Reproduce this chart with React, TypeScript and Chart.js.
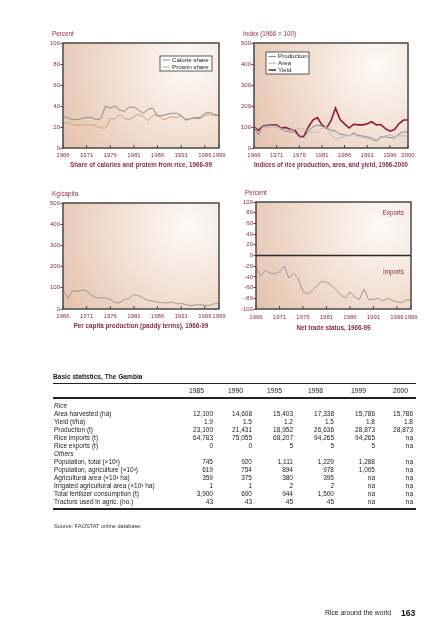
import React, { useEffect, useRef } from "react";
import { Chart, registerables } from "chart.js";
Chart.register(...registerables);

const FONT = "'Liberation Sans', Arial, sans-serif";
const MAROON = "#8b2a4a";

// ---------- data ----------
const years66to99 = [1966, 1967, 1968, 1969, 1970, 1971, 1972, 1973, 1974, 1975, 1976, 1977, 1978, 1979, 1980, 1981, 1982, 1983, 1984, 1985, 1986, 1987, 1988, 1989, 1990, 1991, 1992, 1993, 1994, 1995, 1996, 1997, 1998, 1999];
const years66to00 = [1966, 1967, 1968, 1969, 1970, 1971, 1972, 1973, 1974, 1975, 1976, 1977, 1978, 1979, 1980, 1981, 1982, 1983, 1984, 1985, 1986, 1987, 1988, 1989, 1990, 1991, 1992, 1993, 1994, 1995, 1996, 1997, 1998, 1999, 2000];

const tickYears99 = [1966, 1971, 1976, 1981, 1986, 1991, 1996, 1999];
const tickYears00 = [1966, 1971, 1976, 1981, 1986, 1991, 1996, 2000];

const calorieShare = [30, 29, 27, 27, 28, 29, 29, 27, 28, 40, 38, 40, 36, 35, 39, 39, 36, 33, 37, 38, 30, 31, 32, 33, 33, 31, 27, 28, 29, 29, 33, 34, 32, 31];
const proteinShare = [24, 24, 22, 22, 22, 22, 22, 21, 19, 19, 28, 28, 32, 28, 27, 30, 32, 30, 26, 31, 32, 27, 28, 30, 29, 31, 26, 28, 28, 28, 31, 32, 31, 31];

const productionIdx = [100, 62, 105, 106, 110, 108, 90, 80, 76, 76, 52, 50, 80, 100, 109, 105, 95, 85, 80, 65, 63, 57, 73, 60, 57, 52, 48, 35, 54, 53, 50, 48, 67, 77, 75];
const areaIdx = [100, 75, 100, 98, 100, 98, 95, 82, 85, 88, 92, 90, 80, 75, 75, 95, 100, 60, 42, 48, 55, 60, 65, 55, 52, 45, 38, 32, 48, 58, 62, 55, 58, 58, 56];
const yieldIdx = [100, 83, 105, 108, 110, 110, 95, 98, 89, 86, 56, 55, 100, 133, 145, 110, 95, 130, 190, 135, 115, 95, 113, 110, 110, 115, 125, 110, 112, 92, 80, 88, 115, 133, 133];

const perCapita = [90, 50, 85, 83, 90, 85, 65, 55, 52, 52, 45, 30, 30, 45, 50, 68, 62, 52, 40, 38, 32, 30, 28, 33, 25, 25, 22, 15, 20, 20, 18, 17, 25, 25];

const netTrade = [-22, -38, -28, -33, -34, -30, -20, -42, -33, -43, -67, -72, -65, -57, -48, -50, -55, -63, -73, -80, -68, -78, -82, -63, -83, -82, -80, -85, -80, -84, -87, -88, -83, -83];

const tableYears = ["1985", "1990", "1995", "1998", "1999", "2000"];
const riceRows = [
  ["Area harvested (ha)", "12,100", "14,608", "15,403", "17,338", "15,786", "15,786"],
  ["Yield (t/ha)", "1.9", "1.5", "1.2", "1.5", "1.8", "1.8"],
  ["Production (t)", "23,100", "21,431", "18,952", "26,636", "28,873", "28,873"],
  ["Rice imports (t)", "64,783", "75,055", "68,207", "94,265", "94,265", "na"],
  ["Rice exports (t)", "0", "0", "5", "5", "5", "na"],
];
const otherRows = [
  ["Population, total (×10³)", "745", "920", "1,111", "1,229", "1,268", "na"],
  ["Population, agriculture (×10³)", "619", "754", "894", "978", "1,005", "na"],
  ["Agricultural area (×10³ ha)", "359", "375", "380", "395", "na", "na"],
  ["Irrigated agricultural area (×10³ ha)", "1", "1", "2", "2", "na", "na"],
  ["Total fertilizer consumption (t)", "3,900", "600", "944", "1,500", "na", "na"],
  ["Tractors used in agric. (no.)", "43", "43", "45", "45", "na", "na"],
];

// ---------- chart specs ----------
type LegendItem = { label: string; color: string; width: number };
type Spec = {
  left: number; top: number; width: number; height: number;
  area: { l: number; t: number; r: number; b: number };
  xMin: number; xMax: number; xTicks: number[];
  yMin: number; yMax: number; yStep: number;
  unit: string; title: string; tickPad: number; titleY: number;
  datasets: any[];
  legend?: { x: number; y: number; w: number; h: number; rows: number[]; items: LegendItem[] };
  zeroLine?: boolean;
  notes?: { text: string; x: number; y: number }[];
};

const pts = (xs: number[], ys: number[]) => ys.map((y, i) => ({ x: xs[i], y }));

const line = (label: string, xs: number[], ys: number[], color: string, width = 1) => ({
  label, data: pts(xs, ys), borderColor: color, borderWidth: width,
  pointRadius: 0, tension: 0, fill: false,
});

const C_CAL = "#8a8a8a";
const C_PRO = "#d89b80";
const C_PROD = "#7b8d9e";
const C_AREA = "#bfb5b5";
const C_YIELD = "#8e1b35";
const C_GREY = "#9a9a9a";

const specs: Spec[] = [
  {
    left: 0, top: 25, width: 236, height: 150,
    area: { l: 63, t: 43, r: 219, b: 148 },
    xMin: 1966, xMax: 1999, xTicks: tickYears99,
    yMin: 0, yMax: 100, yStep: 20,
    unit: "Percent", title: "Share of calories and protein from rice, 1966-99",
    tickPad: 3.4, titleY: 165,
    datasets: [
      line("Calorie share", years66to99, calorieShare, C_CAL),
      line("Protein share", years66to99, proteinShare, C_PRO),
    ],
    legend: {
      x: 160, y: 56, w: 52, h: 15, rows: [60, 67],
      items: [
        { label: "Calorie share", color: C_CAL, width: 1 },
        { label: "Protein share", color: C_PRO, width: 1 },
      ],
    },
  },
  {
    left: 230, top: 25, width: 218, height: 150,
    area: { l: 254, t: 43, r: 408, b: 148 },
    xMin: 1966, xMax: 2000, xTicks: tickYears00,
    yMin: 0, yMax: 500, yStep: 100,
    unit: "Index (1966 = 100)", title: "Indices of rice production, area, and yield, 1966-2000",
    tickPad: 3.4, titleY: 165,
    datasets: [
      line("Area", years66to00, areaIdx, C_AREA),
      line("Production", years66to00, productionIdx, C_PROD),
      line("Yield", years66to00, yieldIdx, C_YIELD, 1.6),
    ],
    legend: {
      x: 266, y: 52, w: 43, h: 22, rows: [56.5, 63.2, 70],
      items: [
        { label: "Production", color: C_PROD, width: 1 },
        { label: "Area", color: C_AREA, width: 1 },
        { label: "Yield", color: C_YIELD, width: 1.6 },
      ],
    },
  },
  {
    left: 0, top: 185, width: 236, height: 150,
    area: { l: 63, t: 203, r: 219, b: 309 },
    xMin: 1966, xMax: 1999, xTicks: tickYears99,
    yMin: 0, yMax: 500, yStep: 100,
    unit: "Kg/capita", title: "Per capita production (paddy terms), 1966-99",
    tickPad: 3.4, titleY: 326,
    datasets: [line("Per capita production", years66to99, perCapita, C_GREY)],
  },
  {
    left: 230, top: 185, width: 218, height: 150,
    area: { l: 256, t: 202, r: 411, b: 309 },
    xMin: 1966, xMax: 1999, xTicks: tickYears99,
    yMin: -100, yMax: 100, yStep: 20,
    unit: "Percent", title: "Net trade status, 1966-99",
    tickPad: 4.4, titleY: 328,
    datasets: [line("Net trade", years66to99, netTrade, C_GREY)],
    zeroLine: true,
    notes: [
      { text: "Exports", x: 404, y: 213 },
      { text: "Imports", x: 404, y: 272 },
    ],
  },
];

function buildConfig(s: Spec): any {
  const a = s.area;
  const padTop = a.t - s.top;
  const padRight = s.left + s.width - a.r;
  const yW = a.l - s.left;
  const xH = s.top + s.height - a.b;
  const titleSize = 6.3;
  const titlePadBottom = s.top + s.height - s.titleY - (titleSize * 1.2) / 2;
  const px = (x: number) => x - s.left;
  const py = (y: number) => y - s.top;

  const deco = {
    id: "deco",
    beforeDraw(chart: any) {
      const { ctx, chartArea: ca } = chart;
      const w = ca.right - ca.left;
      const h = ca.bottom - ca.top;
      const cx = ca.left + w * 0.8;
      const cy = ca.top + h * 0.22;
      const g = ctx.createRadialGradient(cx, cy, 0, cx, cy, Math.hypot(w, h) * 0.85);
      g.addColorStop(0, "#fdfaf7");
      g.addColorStop(0.3, "#f6e8de");
      g.addColorStop(1, "#e2bea7");
      ctx.save();
      ctx.fillStyle = g;
      ctx.fillRect(ca.left, ca.top, w, h);
      ctx.restore();
    },
    afterDatasetsDraw(chart: any) {
      const { ctx, chartArea: ca, scales } = chart;
      ctx.save();
      if (s.zeroLine) {
        const y0 = scales.y.getPixelForValue(0);
        ctx.strokeStyle = "#2a2a2a";
        ctx.lineWidth = 1.6;
        ctx.beginPath();
        ctx.moveTo(ca.left, y0);
        ctx.lineTo(ca.right, y0);
        ctx.stroke();
      }
      ctx.strokeStyle = "#4a4646";
      ctx.lineWidth = 1;
      for (const v of s.xTicks) {
        const x = scales.x.getPixelForValue(v);
        ctx.beginPath();
        ctx.moveTo(x, ca.bottom);
        ctx.lineTo(x, ca.bottom - 3);
        ctx.stroke();
      }
      ctx.lineWidth = 1.5;
      ctx.strokeRect(ca.left, ca.top, ca.right - ca.left, ca.bottom - ca.top);

      ctx.fillStyle = MAROON;
      ctx.font = `6.3px ${FONT}`;
      ctx.textAlign = "left";
      ctx.textBaseline = "middle";
      ctx.fillText(s.unit, ca.left - 11, ca.top - 8.5);

      if (s.notes) {
        ctx.textAlign = "right";
        for (const n of s.notes) ctx.fillText(n.text, px(n.x), py(n.y));
      }

      if (s.legend) {
        const L = s.legend;
        ctx.fillStyle = "#ffffff";
        ctx.fillRect(px(L.x), py(L.y), L.w, L.h);
        ctx.strokeStyle = "#333";
        ctx.lineWidth = 0.8;
        ctx.strokeRect(px(L.x), py(L.y), L.w, L.h);
        ctx.font = `6.2px ${FONT}`;
        ctx.textAlign = "left";
        ctx.textBaseline = "middle";
        L.items.forEach((it, i) => {
          const yy = py(L.rows[i]);
          ctx.strokeStyle = it.color;
          ctx.lineWidth = it.width;
          ctx.beginPath();
          ctx.moveTo(px(L.x) + 2.5, yy);
          ctx.lineTo(px(L.x) + 10, yy);
          ctx.stroke();
          ctx.fillStyle = "#222";
          ctx.fillText(it.label, px(L.x) + 12, yy);
        });
      }
      ctx.restore();
    },
  };

  return {
    type: "line",
    data: { datasets: s.datasets },
    plugins: [deco],
    options: {
      animation: false,
      responsive: false,
      devicePixelRatio: 1,
      parsing: true,
      layout: { padding: { left: 0, top: padTop, right: padRight, bottom: 0 } },
      plugins: { legend: { display: false }, tooltip: { enabled: false }, title: { display: false } },
      scales: {
        x: {
          type: "linear",
          min: s.xMin,
          max: s.xMax,
          afterBuildTicks: (sc: any) => { sc.ticks = s.xTicks.map((v) => ({ value: v })); },
          afterFit: (sc: any) => { sc.height = xH; sc.paddingLeft = 0; sc.paddingRight = 0; },
          grid: { display: false, drawTicks: false, drawOnChartArea: false },
          border: { display: false },
          ticks: {
            autoSkip: false, maxRotation: 0, minRotation: 0, padding: s.tickPad,
            color: MAROON, font: { family: FONT, size: 6 },
            callback: (v: any) => String(v),
          },
          title: {
            display: true, text: s.title, color: MAROON,
            font: { family: FONT, size: titleSize, weight: "bold", lineHeight: 1.2 },
            padding: { top: 0, bottom: titlePadBottom },
          },
        },
        y: {
          min: s.yMin,
          max: s.yMax,
          afterFit: (sc: any) => { sc.width = yW; sc.paddingTop = 0; sc.paddingBottom = 0; },
          grid: { drawOnChartArea: false, drawTicks: true, tickLength: 2.5, color: "#5a3a44", lineWidth: 1 },
          border: { display: false },
          ticks: {
            stepSize: s.yStep, padding: 0.5, color: MAROON,
            font: { family: FONT, size: 6 },
            callback: (v: any) => String(v),
          },
        },
      },
    },
  };
}

function ChartBox({ spec }: { spec: Spec }) {
  const ref = useRef<HTMLCanvasElement | null>(null);
  useEffect(() => {
    const chart = new Chart(ref.current as HTMLCanvasElement, buildConfig(spec));
    return () => chart.destroy();
  }, []);
  return (
    <canvas
      ref={ref}
      width={spec.width}
      height={spec.height}
      style={{ position: "absolute", left: spec.left, top: spec.top, width: spec.width, height: spec.height }}
    />
  );
}

// ---------- table ----------
const valueRight = [213, 252, 293, 334, 375, 413];
const headRight = [204, 243, 282, 323, 366, 408];
const TABLE_FONT = "'Liberation Sans', Arial, sans-serif";

function Cell({ text, right, top, italic }: { text: string; right: number; top: number; italic?: boolean }) {
  return (
    <div style={{
      position: "absolute", left: right - 60, width: 60, top, height: 8, lineHeight: "8px",
      textAlign: "right", fontSize: 6.5, whiteSpace: "nowrap", fontStyle: italic ? "italic" : "normal",
    }}>{text}</div>
  );
}

function Label({ text, top, italic }: { text: string; top: number; italic?: boolean }) {
  return (
    <div style={{
      position: "absolute", left: 54, top, height: 8, lineHeight: "8px", fontSize: 6.5,
      whiteSpace: "nowrap", fontStyle: italic ? "italic" : "normal",
    }}>{text}</div>
  );
}

function StatsTable() {
  const rows: { label: string; vals?: string[]; italic?: boolean }[] = [];
  rows.push({ label: "Rice", italic: true });
  riceRows.forEach((r) => rows.push({ label: r[0], vals: r.slice(1) }));
  rows.push({ label: "Others", italic: true });
  otherRows.forEach((r) => rows.push({ label: r[0], vals: r.slice(1) }));
  const firstTop = 402;
  return (
    <div style={{ position: "absolute", left: 0, top: 0, width: 448, height: 640, fontFamily: TABLE_FONT, color: "#1a1a1a" }}>
      <div style={{ position: "absolute", left: 53, top: 372, height: 10, lineHeight: "10px", fontSize: 6.6, fontWeight: "bold", whiteSpace: "nowrap" }}>
        Basic statistics, The Gambia
      </div>
      <div style={{ position: "absolute", left: 53, top: 383, width: 363, height: 1, background: "#222" }} />
      {tableYears.map((y, i) => (
        <div key={y} style={{ position: "absolute", left: headRight[i] - 40, width: 40, top: 386, height: 9, lineHeight: "9px", textAlign: "right", fontSize: 6.8 }}>{y}</div>
      ))}
      <div style={{ position: "absolute", left: 53, top: 397, width: 363, height: 1.5, background: "#222" }} />
      {rows.map((r, i) => {
        const top = firstTop + i * 8;
        return (
          <React.Fragment key={r.label}>
            <Label text={r.label} top={top} italic={r.italic} />
            {r.vals && r.vals.map((v, j) => <Cell key={j} text={v} right={valueRight[j]} top={top} />)}
          </React.Fragment>
        );
      })}
      <div style={{ position: "absolute", left: 53, top: 508, width: 363, height: 1.5, background: "#222" }} />
      <div style={{ position: "absolute", left: 54, top: 522, height: 8, lineHeight: "8px", fontSize: 5.6, whiteSpace: "nowrap", color: "#333" }}>
        Source: FAOSTAT online database.
      </div>
      <div style={{ position: "absolute", left: 325, top: 608, height: 10, lineHeight: "10px", fontSize: 6.8, whiteSpace: "nowrap", color: "#222" }}>
        Rice around the world
      </div>
      <div style={{ position: "absolute", left: 401, top: 607, height: 12, lineHeight: "12px", fontSize: 8.5, fontWeight: "bold", whiteSpace: "nowrap", color: "#111" }}>
        163
      </div>
    </div>
  );
}

export default function App() {
  return (
    <div style={{ position: "absolute", left: 0, top: 0, width: 448, height: 640, background: "#fff", overflow: "hidden" }}>
      {specs.map((s, i) => <ChartBox key={i} spec={s} />)}
      <StatsTable />
    </div>
  );
}
